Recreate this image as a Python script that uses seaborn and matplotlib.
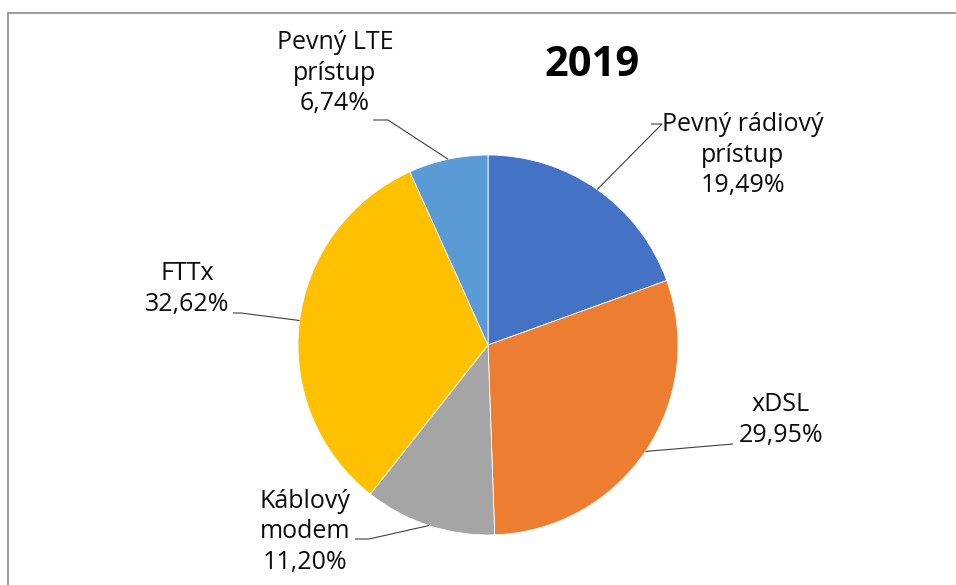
import matplotlib
matplotlib.use("Agg")
import matplotlib.pyplot as plt
import numpy as np
import seaborn as sns
from matplotlib.lines import Line2D

# data
categories = ["Pevný rádiový\nprístup", "xDSL", "Káblový\nmodem", "FTTx", "Pevný LTE\nprístup"]
shares = [19.49, 29.95, 11.20, 32.62, 6.74]
colors = ["#4472C4", "#ED7D31", "#A5A5A5", "#FFC000", "#5B9BD5"]
title = "2019"

W, H = 956, 585
CX, CY, R = 488, 345, 190  # pie centre/radius in px (top-down)

# label layout, px top-down: text centre, leader end at text, elbow
label_pos = [(743, 155), (781, 420), (305, 532), (187, 289), (335, 73)]
leader_end = [(651, 124), (733, 444), (355, 539), (233, 313), (373, 120)]
leader_elbow = [(662, 124), (733, 444), (369, 539), (241, 313), (388, 120)]
anchor_override = {3: 172.6}

sns.set_theme(style="white")
plt.rcParams["font.family"] = ["Open Sans", "DejaVu Sans"]

fig = plt.figure(figsize=(W / 100, H / 100), dpi=100)
ax = fig.add_axes([0, 0, 1, 1])
ax.set_aspect("equal")
ax.axis("off")


def fy(y):
    return H - y


wedges, _ = ax.pie(shares, colors=colors, startangle=90, counterclock=False,
                   center=(CX, fy(CY)), radius=R,
                   wedgeprops={"edgecolor": "white", "linewidth": 0.6})
ax.set_xlim(0, W)
ax.set_ylim(0, H)

for i, (w, cat, val) in enumerate(zip(wedges, categories, shares)):
    ang = anchor_override.get(i, (w.theta1 + w.theta2) / 2)
    ax_x = CX + R * np.cos(np.deg2rad(ang))
    ax_y = fy(CY) + R * np.sin(np.deg2rad(ang))
    ex, ey = leader_end[i]
    bx, by = leader_elbow[i]
    ax.plot([ex, bx, ax_x], [fy(ey), fy(by), ax_y], color="#404040", lw=0.8,
            solid_capstyle="butt")
    tx, ty = label_pos[i]
    txt = f"{cat}\n{val:.2f}%".replace(".", ",")
    ax.text(tx, fy(ty), txt, ha="center", va="center", fontsize=18,
            color="#0d0d0d", linespacing=1.3)

ax.text(592, fy(65), title, ha="center", va="center", fontsize=30,
        fontweight="bold", color="black")

# chart frame (only left/top edges are visible in the crop)
fig.add_artist(Line2D([8 / W, 8 / W], [0, fy(12.5) / H], color="#8c8c8c", lw=1.2))
fig.add_artist(Line2D([8 / W, 1], [fy(12.5) / H, fy(12.5) / H], color="#8c8c8c", lw=1.2))

fig.savefig("out.png", dpi=100)
